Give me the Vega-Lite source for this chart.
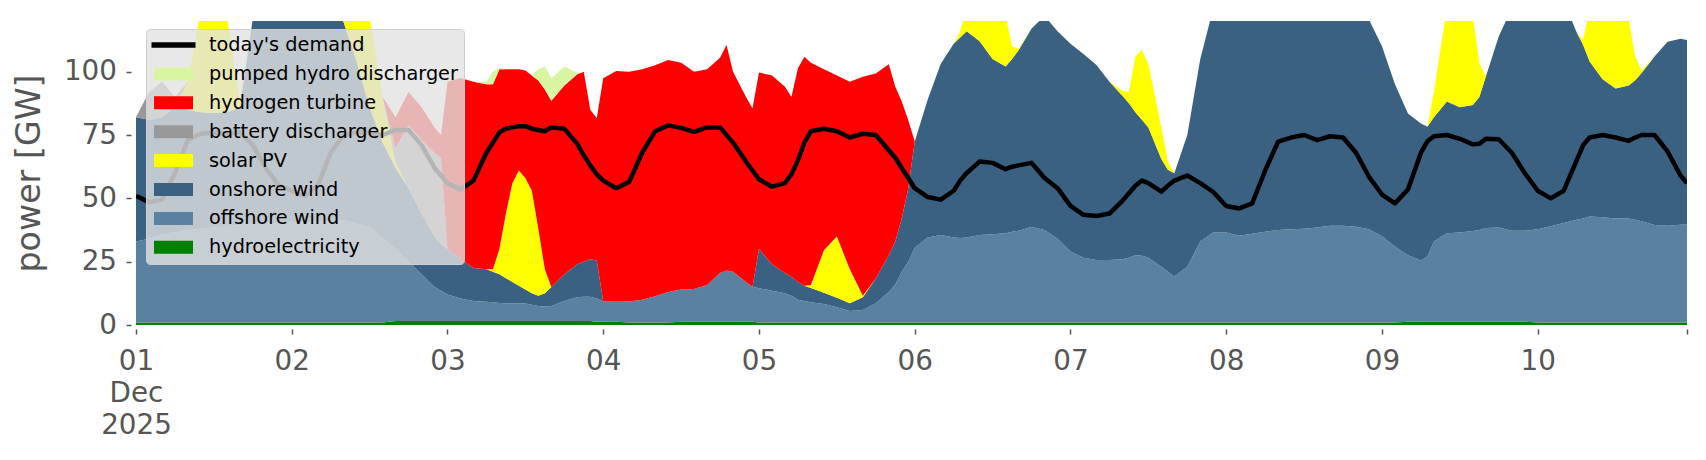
{
"$schema": "https://vega.github.io/schema/vega-lite/v6.json",
"width": 1551, "height": 304,
"autosize": {"type": "none"},
"padding": {"left": 136, "top": 21, "right": 19, "bottom": 135},
"background": "white",
"config": {"font": "DejaVu Sans", "view": {"stroke": null}},
"data": {"values": [
{"t":"2025-12-01T00:00","hy":1,"off":32,"on":49,"pv":0,"bat":0,"h2":0,"ph":0,"d":51},
{"t":"2025-12-01T02:00","hy":1,"off":33,"on":47,"pv":0,"bat":11,"h2":0,"ph":0,"d":48.5},
{"t":"2025-12-01T04:00","hy":1,"off":34.5,"on":46.5,"pv":0,"bat":14,"h2":0,"ph":0,"d":49.5},
{"t":"2025-12-01T06:00","hy":1,"off":35.5,"on":49.5,"pv":0,"bat":4,"h2":0,"ph":0,"d":60},
{"t":"2025-12-01T08:00","hy":1,"off":36.5,"on":47.5,"pv":11,"bat":0,"h2":0,"ph":0,"d":73},
{"t":"2025-12-01T10:00","hy":1,"off":37,"on":46,"pv":41,"bat":0,"h2":0,"ph":0,"d":75.5},
{"t":"2025-12-01T12:00","hy":1,"off":37.5,"on":45.2,"pv":44.3,"bat":0,"h2":0,"ph":0,"d":76},
{"t":"2025-12-01T14:00","hy":1,"off":38,"on":45,"pv":38,"bat":0,"h2":0,"ph":0,"d":75.5},
{"t":"2025-12-01T16:00","hy":1,"off":38.5,"on":46.5,"pv":2,"bat":0,"h2":0,"ph":0,"d":76},
{"t":"2025-12-01T18:00","hy":1,"off":39,"on":81,"pv":0,"bat":0,"h2":0,"ph":0,"d":71},
{"t":"2025-12-01T20:00","hy":1,"off":39,"on":88,"pv":0,"bat":0,"h2":0,"ph":0,"d":62},
{"t":"2025-12-01T22:00","hy":1,"off":39,"on":92,"pv":0,"bat":0,"h2":0,"ph":0,"d":55},
{"t":"2025-12-02T00:00","hy":1,"off":39.5,"on":93.5,"pv":0,"bat":0,"h2":0,"ph":0,"d":53},
{"t":"2025-12-02T02:00","hy":1,"off":39.5,"on":93.5,"pv":0,"bat":0,"h2":0,"ph":0,"d":51},
{"t":"2025-12-02T04:00","hy":1,"off":40,"on":89,"pv":0,"bat":0,"h2":0,"ph":0,"d":55},
{"t":"2025-12-02T06:00","hy":1,"off":40,"on":85,"pv":0,"bat":0,"h2":0,"ph":0,"d":68},
{"t":"2025-12-02T08:00","hy":1,"off":40.4,"on":78.1,"pv":6.5,"bat":0,"h2":0,"ph":0,"d":75},
{"t":"2025-12-02T10:00","hy":1,"off":39,"on":64,"pv":22,"bat":0,"h2":0,"ph":0,"d":76},
{"t":"2025-12-02T12:00","hy":1,"off":37.8,"on":47.2,"pv":36,"bat":0,"h2":0,"ph":0,"d":76},
{"t":"2025-12-02T14:00","hy":1,"off":33,"on":38,"pv":18,"bat":0,"h2":0,"ph":0,"d":75},
{"t":"2025-12-02T16:00","hy":1.6,"off":28.4,"on":32,"pv":2,"bat":6,"h2":12,"ph":0,"d":77},
{"t":"2025-12-02T18:00","hy":1.6,"off":23.4,"on":29,"pv":0,"bat":25,"h2":13,"ph":0,"d":77},
{"t":"2025-12-02T20:00","hy":1.6,"off":18.4,"on":24,"pv":0,"bat":29,"h2":13,"ph":0,"d":71},
{"t":"2025-12-02T22:00","hy":1.6,"off":13.4,"on":20,"pv":0,"bat":33,"h2":10,"ph":0,"d":62},
{"t":"2025-12-02T23:00","hy":1.6,"off":11.9,"on":18.5,"pv":0,"bat":34,"h2":9,"ph":0,"d":59},
{"t":"2025-12-03T00:00","hy":1.6,"off":10.4,"on":18,"pv":0,"bat":0,"h2":66,"ph":0,"d":56},
{"t":"2025-12-03T02:00","hy":1.6,"off":8.9,"on":15.5,"pv":0,"bat":0,"h2":71.5,"ph":0,"d":53.5},
{"t":"2025-12-03T04:00","hy":1.6,"off":7.9,"on":13,"pv":0,"bat":0,"h2":73.5,"ph":0,"d":57},
{"t":"2025-12-03T06:00","hy":1.6,"off":7.6,"on":12.8,"pv":0,"bat":0,"h2":73,"ph":1,"d":68},
{"t":"2025-12-03T07:00","hy":1.6,"off":7.4,"on":12,"pv":1,"bat":0,"h2":73,"ph":5,"d":72},
{"t":"2025-12-03T08:00","hy":1.6,"off":7.1,"on":11.3,"pv":10,"bat":0,"h2":71,"ph":0.5,"d":76},
{"t":"2025-12-03T09:00","hy":1.6,"off":7,"on":9.9,"pv":25.5,"bat":0,"h2":57,"ph":0,"d":77.5},
{"t":"2025-12-03T10:00","hy":1.6,"off":7,"on":8.4,"pv":39,"bat":0,"h2":45,"ph":0,"d":78},
{"t":"2025-12-03T11:00","hy":1.6,"off":7,"on":6.9,"pv":45.5,"bat":0,"h2":40,"ph":0,"d":78.5},
{"t":"2025-12-03T12:00","hy":1.6,"off":6.9,"on":5.5,"pv":44,"bat":0,"h2":42.5,"ph":0,"d":78.5},
{"t":"2025-12-03T13:00","hy":1.6,"off":6.4,"on":4.5,"pv":40.5,"bat":0,"h2":45.5,"ph":0,"d":77.5},
{"t":"2025-12-03T14:00","hy":1.6,"off":5.9,"on":4,"pv":26.5,"bat":0,"h2":58.5,"ph":4.5,"d":77},
{"t":"2025-12-03T15:00","hy":1.6,"off":5.7,"on":5.2,"pv":9.5,"bat":0,"h2":71,"ph":9,"d":76.5},
{"t":"2025-12-03T16:00","hy":1.6,"off":5.9,"on":7.5,"pv":0,"bat":0,"h2":73.5,"ph":8.9,"d":78},
{"t":"2025-12-03T18:00","hy":1.6,"off":7.9,"on":10.5,"pv":0,"bat":0,"h2":74.5,"ph":7.5,"d":77.5},
{"t":"2025-12-03T20:00","hy":1.6,"off":9.4,"on":13,"pv":0,"bat":0,"h2":75,"ph":0.5,"d":71.5},
{"t":"2025-12-03T21:00","hy":1.6,"off":9.6,"on":13.8,"pv":0,"bat":0,"h2":75,"ph":0,"d":67},
{"t":"2025-12-03T22:00","hy":1.6,"off":9.6,"on":14.8,"pv":0,"bat":0,"h2":59,"ph":0,"d":63},
{"t":"2025-12-03T23:00","hy":1.3,"off":9.2,"on":15,"pv":0,"bat":0,"h2":56.1,"ph":0,"d":59.5},
{"t":"2025-12-04T00:00","hy":1.3,"off":8,"on":0,"pv":0,"bat":0,"h2":88.1,"ph":0,"d":57},
{"t":"2025-12-04T02:00","hy":1.3,"off":7.9,"on":0,"pv":0,"bat":0,"h2":91.1,"ph":0,"d":54},
{"t":"2025-12-04T04:00","hy":1,"off":8.3,"on":0,"pv":0,"bat":0,"h2":90.7,"ph":0,"d":56.5},
{"t":"2025-12-04T06:00","hy":1,"off":9,"on":0,"pv":0,"bat":0,"h2":91,"ph":0,"d":68},
{"t":"2025-12-04T08:00","hy":1,"off":10.3,"on":0,"pv":0,"bat":0,"h2":91.2,"ph":0,"d":76.5},
{"t":"2025-12-04T10:00","hy":1,"off":12,"on":0,"pv":0,"bat":0,"h2":91.6,"ph":0,"d":78.8},
{"t":"2025-12-04T12:00","hy":1.3,"off":12.7,"on":0,"pv":0,"bat":0,"h2":89.5,"ph":0,"d":77.8},
{"t":"2025-12-04T14:00","hy":1.3,"off":12.9,"on":0,"pv":0,"bat":0,"h2":85.8,"ph":0,"d":76.2},
{"t":"2025-12-04T16:00","hy":1.3,"off":14.5,"on":0,"pv":0,"bat":0,"h2":85.2,"ph":0,"d":78},
{"t":"2025-12-04T18:00","hy":1.3,"off":19.2,"on":0,"pv":0,"bat":0,"h2":85,"ph":0,"d":78},
{"t":"2025-12-04T19:00","hy":1.3,"off":20.2,"on":0,"pv":0,"bat":0,"h2":89,"ph":0,"d":75},
{"t":"2025-12-04T20:00","hy":1.3,"off":19.7,"on":0,"pv":0,"bat":0,"h2":79,"ph":0,"d":72},
{"t":"2025-12-04T22:00","hy":1.3,"off":15.7,"on":0,"pv":0,"bat":0,"h2":73,"ph":0,"d":64.5},
{"t":"2025-12-04T23:00","hy":1.3,"off":13.8,"on":0,"pv":0,"bat":0,"h2":70.4,"ph":0,"d":61},
{"t":"2025-12-05T00:00","hy":1,"off":13.5,"on":15.5,"pv":0,"bat":0,"h2":69.7,"ph":0,"d":57.5},
{"t":"2025-12-05T02:00","hy":1,"off":12.5,"on":10.5,"pv":0,"bat":0,"h2":74.5,"ph":0,"d":54.6},
{"t":"2025-12-05T04:00","hy":1,"off":11.5,"on":8,"pv":0,"bat":0,"h2":73.5,"ph":0,"d":56},
{"t":"2025-12-05T05:00","hy":1,"off":10.5,"on":7.5,"pv":0,"bat":0,"h2":71,"ph":0,"d":59.5},
{"t":"2025-12-05T06:00","hy":1,"off":9,"on":7,"pv":0,"bat":0,"h2":84.3,"ph":0,"d":65},
{"t":"2025-12-05T07:00","hy":1,"off":8.5,"on":6,"pv":0,"bat":0,"h2":90.4,"ph":0,"d":72},
{"t":"2025-12-05T08:00","hy":1,"off":8,"on":5.6,"pv":1.2,"bat":0,"h2":87.7,"ph":0,"d":76.5},
{"t":"2025-12-05T10:00","hy":1,"off":7.3,"on":4.4,"pv":16.8,"bat":0,"h2":71.5,"ph":0,"d":77.5},
{"t":"2025-12-05T12:00","hy":1,"off":6,"on":3.8,"pv":24.1,"bat":0,"h2":63.6,"ph":0,"d":76.5},
{"t":"2025-12-05T14:00","hy":1,"off":4.5,"on":3.1,"pv":13.4,"bat":0,"h2":74,"ph":0,"d":74},
{"t":"2025-12-05T16:00","hy":1,"off":4.9,"on":5.1,"pv":0.5,"bat":0,"h2":86.5,"ph":0,"d":75.5},
{"t":"2025-12-05T18:00","hy":1,"off":7.6,"on":9.8,"pv":0,"bat":0,"h2":80.9,"ph":0,"d":75},
{"t":"2025-12-05T20:00","hy":1,"off":12,"on":14.5,"pv":0,"bat":0,"h2":75.4,"ph":0,"d":69},
{"t":"2025-12-05T21:00","hy":1,"off":15,"on":17,"pv":0,"bat":0,"h2":61,"ph":0,"d":66},
{"t":"2025-12-05T22:00","hy":1,"off":20,"on":21,"pv":0,"bat":0,"h2":46.2,"ph":0,"d":62},
{"t":"2025-12-05T23:00","hy":1,"off":24,"on":29,"pv":0,"bat":0,"h2":26.8,"ph":0,"d":58},
{"t":"2025-12-06T00:00","hy":1,"off":29.5,"on":41.9,"pv":0,"bat":0,"h2":0,"ph":0,"d":54},
{"t":"2025-12-06T02:00","hy":1,"off":33.5,"on":54.5,"pv":0,"bat":0,"h2":0,"ph":0,"d":50.5},
{"t":"2025-12-06T04:00","hy":1,"off":34.5,"on":67.5,"pv":0,"bat":0,"h2":0,"ph":0,"d":49.5},
{"t":"2025-12-06T06:00","hy":1,"off":33.5,"on":76.5,"pv":0,"bat":0,"h2":0,"ph":0,"d":53},
{"t":"2025-12-06T07:00","hy":1,"off":33.3,"on":79.2,"pv":2.5,"bat":0,"h2":0,"ph":0,"d":57},
{"t":"2025-12-06T08:00","hy":1,"off":33.5,"on":81.5,"pv":9,"bat":0,"h2":0,"ph":0,"d":60},
{"t":"2025-12-06T10:00","hy":1,"off":34.5,"on":76.5,"pv":16,"bat":0,"h2":0,"ph":0,"d":64.5},
{"t":"2025-12-06T12:00","hy":1,"off":34.8,"on":69.2,"pv":23,"bat":0,"h2":0,"ph":0,"d":64},
{"t":"2025-12-06T14:00","hy":1,"off":35.2,"on":65.8,"pv":20,"bat":0,"h2":0,"ph":0,"d":61.5},
{"t":"2025-12-06T15:00","hy":1,"off":35.8,"on":68.2,"pv":5,"bat":0,"h2":0,"ph":0,"d":62.5},
{"t":"2025-12-06T16:00","hy":1,"off":36.2,"on":71.3,"pv":0.5,"bat":0,"h2":0,"ph":0,"d":63},
{"t":"2025-12-06T18:00","hy":1,"off":37.7,"on":78.3,"pv":0,"bat":0,"h2":0,"ph":0,"d":64},
{"t":"2025-12-06T20:00","hy":1,"off":36.5,"on":84.5,"pv":0,"bat":0,"h2":0,"ph":0,"d":58},
{"t":"2025-12-06T22:00","hy":1,"off":33,"on":82,"pv":0,"bat":0,"h2":0,"ph":0,"d":54},
{"t":"2025-12-07T00:00","hy":1,"off":28,"on":82,"pv":0,"bat":0,"h2":0,"ph":0,"d":47},
{"t":"2025-12-07T02:00","hy":1,"off":25.5,"on":80.5,"pv":0,"bat":0,"h2":0,"ph":0,"d":43.5},
{"t":"2025-12-07T04:00","hy":1,"off":24.7,"on":76.9,"pv":0,"bat":0,"h2":0,"ph":0,"d":43},
{"t":"2025-12-07T06:00","hy":1,"off":24.7,"on":70.3,"pv":0,"bat":0,"h2":0,"ph":0,"d":44},
{"t":"2025-12-07T08:00","hy":1,"off":25,"on":64.5,"pv":2,"bat":0,"h2":0,"ph":0,"d":49},
{"t":"2025-12-07T09:00","hy":1,"off":25.5,"on":61,"pv":4.5,"bat":0,"h2":0,"ph":0,"d":52},
{"t":"2025-12-07T10:00","hy":1,"off":26.5,"on":56.5,"pv":22,"bat":0,"h2":0,"ph":0,"d":55},
{"t":"2025-12-07T11:00","hy":1,"off":26.3,"on":53.7,"pv":27.6,"bat":0,"h2":0,"ph":0,"d":57},
{"t":"2025-12-07T12:00","hy":1,"off":25.5,"on":51.5,"pv":25,"bat":0,"h2":0,"ph":0,"d":56},
{"t":"2025-12-07T14:00","hy":1,"off":22,"on":42.5,"pv":12.5,"bat":0,"h2":0,"ph":0,"d":52.6},
{"t":"2025-12-07T15:00","hy":1,"off":20,"on":40.3,"pv":3.2,"bat":0,"h2":0,"ph":0,"d":55},
{"t":"2025-12-07T16:00","hy":1,"off":18.1,"on":40.8,"pv":0,"bat":0,"h2":0,"ph":0,"d":57},
{"t":"2025-12-07T18:00","hy":1,"off":22,"on":52,"pv":0,"bat":0,"h2":0,"ph":0,"d":59},
{"t":"2025-12-07T20:00","hy":1,"off":32,"on":72,"pv":0,"bat":0,"h2":0,"ph":0,"d":56},
{"t":"2025-12-07T22:00","hy":1,"off":35.5,"on":88.5,"pv":0,"bat":0,"h2":0,"ph":0,"d":52.5},
{"t":"2025-12-08T00:00","hy":1,"off":35.5,"on":95.5,"pv":0,"bat":0,"h2":0,"ph":0,"d":47},
{"t":"2025-12-08T02:00","hy":1,"off":34.2,"on":100.8,"pv":0,"bat":0,"h2":0,"ph":0,"d":46},
{"t":"2025-12-08T04:00","hy":1,"off":35,"on":102,"pv":0,"bat":0,"h2":0,"ph":0,"d":48},
{"t":"2025-12-08T06:00","hy":1,"off":35.8,"on":103.2,"pv":0,"bat":0,"h2":0,"ph":0,"d":61},
{"t":"2025-12-08T08:00","hy":1,"off":36.5,"on":102.5,"pv":0,"bat":0,"h2":0,"ph":0,"d":72.4},
{"t":"2025-12-08T10:00","hy":1,"off":36.8,"on":100.2,"pv":0,"bat":0,"h2":0,"ph":0,"d":74},
{"t":"2025-12-08T12:00","hy":1,"off":37,"on":98,"pv":0,"bat":0,"h2":0,"ph":0,"d":75},
{"t":"2025-12-08T14:00","hy":1,"off":37.5,"on":95.5,"pv":0,"bat":0,"h2":0,"ph":0,"d":73},
{"t":"2025-12-08T16:00","hy":1,"off":38.2,"on":92.8,"pv":0,"bat":0,"h2":0,"ph":0,"d":74.5},
{"t":"2025-12-08T18:00","hy":1,"off":38.2,"on":90.8,"pv":0,"bat":0,"h2":0,"ph":0,"d":74},
{"t":"2025-12-08T20:00","hy":1,"off":37.8,"on":87.2,"pv":0,"bat":0,"h2":0,"ph":0,"d":68},
{"t":"2025-12-08T22:00","hy":1,"off":36.8,"on":82.7,"pv":0,"bat":0,"h2":0,"ph":0,"d":58.5},
{"t":"2025-12-09T00:00","hy":1,"off":34,"on":75,"pv":0,"bat":0,"h2":0,"ph":0,"d":51.5},
{"t":"2025-12-09T02:00","hy":1,"off":30,"on":64,"pv":0,"bat":0,"h2":0,"ph":0,"d":48},
{"t":"2025-12-09T04:00","hy":1.3,"off":26.2,"on":56,"pv":0,"bat":0,"h2":0,"ph":0,"d":53.5},
{"t":"2025-12-09T06:00","hy":1.3,"off":24.2,"on":54,"pv":0,"bat":0,"h2":0,"ph":0,"d":68},
{"t":"2025-12-09T07:00","hy":1.3,"off":25.7,"on":51.3,"pv":0,"bat":0,"h2":0,"ph":0,"d":72.5},
{"t":"2025-12-09T08:00","hy":1.3,"off":31.7,"on":49,"pv":10,"bat":0,"h2":0,"ph":0,"d":74.5},
{"t":"2025-12-09T10:00","hy":1.3,"off":34.9,"on":52,"pv":37,"bat":0,"h2":0,"ph":0,"d":75},
{"t":"2025-12-09T12:00","hy":1.3,"off":35.2,"on":49.5,"pv":42,"bat":0,"h2":0,"ph":0,"d":73.5},
{"t":"2025-12-09T14:00","hy":1.3,"off":35.8,"on":49.7,"pv":35,"bat":0,"h2":0,"ph":0,"d":71.3},
{"t":"2025-12-09T15:00","hy":1.3,"off":36.2,"on":52.5,"pv":13.3,"bat":0,"h2":0,"ph":0,"d":71.5},
{"t":"2025-12-09T16:00","hy":1.3,"off":37,"on":59.7,"pv":0,"bat":0,"h2":0,"ph":0,"d":73.5},
{"t":"2025-12-09T18:00","hy":1.3,"off":37.2,"on":75.5,"pv":0,"bat":0,"h2":0,"ph":0,"d":73.3},
{"t":"2025-12-09T20:00","hy":1.3,"off":35.9,"on":87.8,"pv":0,"bat":0,"h2":0,"ph":0,"d":68},
{"t":"2025-12-09T22:00","hy":1.3,"off":35.9,"on":92.8,"pv":0,"bat":0,"h2":0,"ph":0,"d":60},
{"t":"2025-12-10T00:00","hy":1,"off":36.8,"on":94.2,"pv":0,"bat":0,"h2":0,"ph":0,"d":53},
{"t":"2025-12-10T02:00","hy":1,"off":38,"on":93,"pv":0,"bat":0,"h2":0,"ph":0,"d":50},
{"t":"2025-12-10T04:00","hy":1,"off":39.3,"on":87.7,"pv":0,"bat":0,"h2":0,"ph":0,"d":53},
{"t":"2025-12-10T06:00","hy":1,"off":40.5,"on":74,"pv":0,"bat":0,"h2":0,"ph":0,"d":65},
{"t":"2025-12-10T07:00","hy":1,"off":41,"on":68.5,"pv":2,"bat":0,"h2":0,"ph":0,"d":71},
{"t":"2025-12-10T08:00","hy":1,"off":41.8,"on":61.2,"pv":21,"bat":0,"h2":0,"ph":0,"d":74},
{"t":"2025-12-10T10:00","hy":1,"off":41.5,"on":54.5,"pv":31,"bat":0,"h2":0,"ph":0,"d":75},
{"t":"2025-12-10T12:00","hy":1,"off":41,"on":51.4,"pv":34.6,"bat":0,"h2":0,"ph":0,"d":74},
{"t":"2025-12-10T14:00","hy":1,"off":41,"on":52.5,"pv":26.5,"bat":0,"h2":0,"ph":0,"d":72.7},
{"t":"2025-12-10T15:00","hy":1,"off":40.5,"on":55,"pv":9.5,"bat":0,"h2":0,"ph":0,"d":74},
{"t":"2025-12-10T16:00","hy":1,"off":40,"on":58.5,"pv":1,"bat":0,"h2":0,"ph":0,"d":75},
{"t":"2025-12-10T18:00","hy":1,"off":38.5,"on":66.5,"pv":0,"bat":0,"h2":0,"ph":0,"d":75},
{"t":"2025-12-10T20:00","hy":1,"off":38.2,"on":72.6,"pv":0,"bat":0,"h2":0,"ph":0,"d":68.5},
{"t":"2025-12-10T22:00","hy":1,"off":38.6,"on":73.4,"pv":0,"bat":0,"h2":0,"ph":0,"d":59},
{"t":"2025-12-10T23:00","hy":1,"off":38.7,"on":72.8,"pv":0,"bat":0,"h2":0,"ph":0,"d":56}
]},
"layer": [
{
"transform": [
{"fold": ["hy","off","on","pv","bat","h2","ph"], "as": ["src","gw"]},
{"calculate": "indexof(['hy','off','on','pv','bat','h2','ph'], datum.src)", "as": "ord"}
],
"mark": {"type": "area", "clip": true, "interpolate": "linear", "strokeWidth": 0},
"encoding": {
"x": {"field": "t", "type": "temporal",
 "scale": {"domain": [{"year":2025,"month":12,"date":1,"hours":0},{"year":2025,"month":12,"date":10,"hours":23}]},
 "axis": {"title": null, "domain": false, "grid": false, "tickSize": 5, "tickColor": "#555555", "tickWidth": 1.5, "offset": 4,
  "labelFontSize": 27.8, "labelColor": "#555555", "labelPadding": 13, "labelLineHeight": 32.3, "labelAngle": 0,
  "labelFlush": false, "labelOverlap": false, "labelBound": false, "labelBaseline": "top",
  "values": [{"year":2025,"month":12,"date":1},{"year":2025,"month":12,"date":2},{"year":2025,"month":12,"date":3},{"year":2025,"month":12,"date":4},{"year":2025,"month":12,"date":5},{"year":2025,"month":12,"date":6},{"year":2025,"month":12,"date":7},{"year":2025,"month":12,"date":8},{"year":2025,"month":12,"date":9},{"year":2025,"month":12,"date":10},{"year":2025,"month":12,"date":10,"hours":23}],
  "labelExpr": "hours(datum.value) == 23 ? '' : (date(datum.value) == 1 ? ['01','Dec','2025'] : timeFormat(datum.value, '%d'))"}},
"y": {"field": "gw", "type": "quantitative", "stack": "zero",
 "scale": {"domain": [0, 120], "nice": false},
 "axis": {"title": "power [GW]", "values": [0,25,50,75,100], "domain": false, "grid": false, "tickSize": 5, "tickColor": "#555555", "tickWidth": 1.5, "offset": 5,
  "labelFontSize": 27.8, "labelColor": "#555555", "labelPadding": 9.5, "labelFlush": false,
  "titleFontSize": 33.3, "titleColor": "#555555", "titleFontWeight": "normal", "titleAngle": -90, "titleAlign": "center", "titleBaseline": "middle", "titleX": -102, "titleY": 152}},
"color": {"field": "src", "type": "nominal",
 "scale": {"domain": ["demand","ph","h2","bat","pv","on","off","hy"], "range": ["#000000","#d8f5a2","#ff0000","#999999","#ffff00","#3b6182","#5b81a1","#008000"]},
 "legend": {"orient": "none", "legendX": 10, "legendY": 8, "title": null,
  "fillColor": "rgba(226,226,226,0.8)", "strokeColor": "#cfcfcf", "cornerRadius": 4, "padding": 6,
  "labelFontSize": 19.3, "labelColor": "#000000", "labelLimit": 0, "symbolSize": 400, "symbolType": "M-1.95,-0.65H1.95V0.65H-1.95Z",
  "symbolOffset": 11.5, "labelOffset": 25.5, "rowPadding": 7.9, "symbolStrokeWidth": 0, "symbolOpacity": 1,
  "labelExpr": "datum.label == 'demand' ? \"today's demand\" : datum.label == 'ph' ? 'pumped hydro discharger' : datum.label == 'h2' ? 'hydrogen turbine' : datum.label == 'bat' ? 'battery discharger' : datum.label == 'pv' ? 'solar PV' : datum.label == 'on' ? 'onshore wind' : datum.label == 'off' ? 'offshore wind' : 'hydroelectricity'",
  "encode": {"symbols": {"update": {
   "shape": {"signal": "datum.value == 'demand' ? 'M-2.2,-0.27H2.2V0.27H-2.2Z' : 'M-1.95,-0.65H1.95V0.65H-1.95Z'"},
   "fill": {"signal": "scale('color', datum.value)"},
   "stroke": {"value": "transparent"},
   "opacity": {"value": 1}}}}}},
"order": {"field": "ord", "type": "quantitative", "sort": "ascending"}
}
},
{
"mark": {"type": "line", "clip": true, "strokeWidth": 4.5, "strokeJoin": "round"},
"encoding": {
"x": {"field": "t", "type": "temporal"},
"y": {"field": "d", "type": "quantitative", "title": "power [GW]"},
"color": {"datum": "demand"}
}
}
]
}
